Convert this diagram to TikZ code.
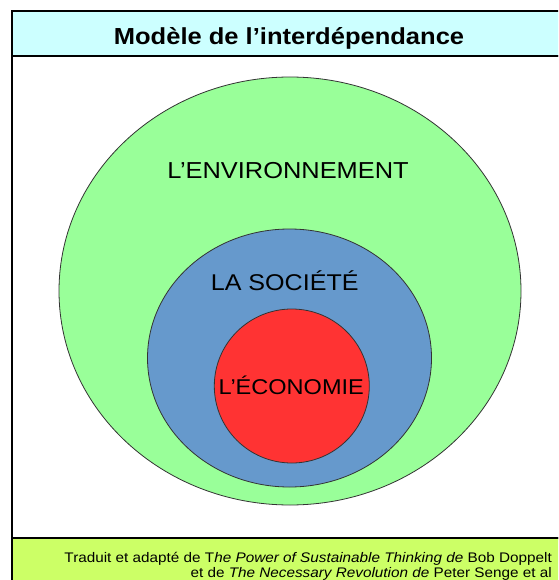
\documentclass[tikz,border=0pt]{standalone}
\usepackage{fontspec}
\setmainfont[FakeStretch=1.1]{Liberation Sans}
\definecolor{titlecyan}{HTML}{CCFFFF}
\definecolor{footgreen}{HTML}{CCFF66}
\definecolor{envgreen}{HTML}{99FF99}
\definecolor{socblue}{HTML}{6699CC}
\definecolor{ecored}{HTML}{FF3333}
\tikzset{
  frame/.style={draw=black, line width=2pt},
  zone/.style={draw=black!80, line width=0.8pt},
  lbl/.style={inner sep=0pt, anchor=base, font=\fontsize{23.1}{26}\selectfont},
}
\begin{document}
\begin{tikzpicture}[x=1pt, y=-1pt]
\useasboundingbox (0,0) rectangle (558,580);
\clip (0,0) rectangle (558,580);
% white background
\fill[white] (0,0) rectangle (558,580);
% title box
\path[frame, fill=titlecyan] (11.5,11) rectangle (570,56.5);
\node[inner sep=0pt, anchor=base, font=\bfseries\fontsize{23.2}{28}\selectfont] (title) at (289,45) {Modèle de l’interdépendance};
% main area
\path[frame, fill=white] (11.5,56.5) rectangle (570,538);
% footer
\path[frame, fill=footgreen] (11.5,538) rectangle (570,600);
\node[inner sep=0pt, anchor=base east, font=\fontsize{13.9}{15.3}\selectfont] (foot) at (552,562)
  {Traduit et adapté de T\textit{he Power of Sustainable Thinking de} Bob Doppelt};
\node[inner sep=0pt, anchor=base east, font=\fontsize{13.9}{15.3}\selectfont] (foot2) at (552,577)
  {et de \textit{The Necessary Revolution de} Peter Senge et al};
% ellipses
\path[zone, fill=envgreen] (290,291) ellipse [x radius=231, y radius=214];
\node (env) at (290,291) {};
\path[zone, fill=socblue] (289.5,358) ellipse [x radius=142, y radius=129];
\node (soc) at (289.5,358) {};
\path[zone, fill=ecored] (291.8,386) ellipse [x radius=77.5, y radius=77];
\node (eco) at (291.8,386) {};
% labels
\node[lbl] (envlbl) at (288,178.5) {L’ENVIRONNEMENT};
\node[lbl, font=\fontsize{22.8}{26}\selectfont] (soclbl) at (284.7,290.7) {LA SOCIÉTÉ};
\node[lbl, font=\fontsize{21.4}{26}\selectfont] (ecolbl) at (291.3,394) {L’ÉCONOMIE};
\end{tikzpicture}
\end{document}
